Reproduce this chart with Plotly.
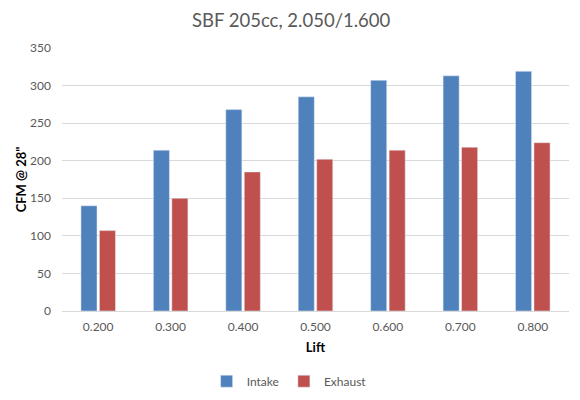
import plotly.graph_objects as go

# Lift-Stufen und Durchfluss (CFM @ 28")
lift = ['0.200', '0.300', '0.400', '0.500', '0.600', '0.700', '0.800']
intake = [140, 214, 268, 285, 307, 313, 319]
exhaust = [107, 150, 185, 202, 214, 218, 224]

fnt = 'Lato, Open Sans, sans-serif'
grau = '#595959'

fig = go.Figure()
fig.add_trace(go.Bar(x=lift, y=intake, name='Intake', marker_color='#4F81BD'))
fig.add_trace(go.Bar(x=lift, y=exhaust, name='Exhaust', marker_color='#C0504D'))

# Seite hat 8px body-Rand, daher 572x392
fig.update_layout(
    width=572, height=392,
    margin=dict(l=54, r=11, t=40, b=89, autoexpand=False),
    paper_bgcolor='white', plot_bgcolor='white',
    font=dict(family=fnt, size=12, color=grau),
    title=dict(text='SBF 205cc, 2.050/1.600', x=0.495, xanchor='center', y=0.969, yanchor='middle',
               font=dict(size=18.5, color=grau)),
    barmode='group', bargap=0.49, bargroupgap=0.13,
    showlegend=True,
    legend=dict(orientation='h', x=0.448, xanchor='center', yref='container', y=0.048, yanchor='middle',
                font=dict(size=12, color=grau), itemwidth=30),
)
fig.update_xaxes(
    automargin=False,
    showline=True, linecolor='#D9D9D9', linewidth=1, ticks='', ticklabelstandoff=5,
    title=dict(text='<b>Lift</b>', font=dict(size=13, color='black'), standoff=9),
)
fig.update_yaxes(
    automargin=False,
    range=[0, 350], dtick=50, showgrid=True, gridcolor='#D9D9D9', zeroline=False,
    ticks='', ticklabelstandoff=10,
    title=dict(text='<b>CFM @ 28"</b>', font=dict(size=13, color='black'), standoff=0),
)

fig.write_html("out.html")
